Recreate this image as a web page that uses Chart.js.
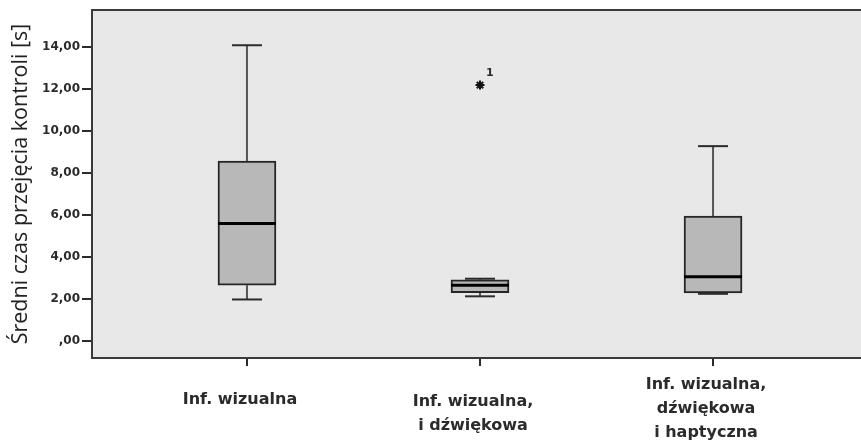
<!DOCTYPE html>
<html>
<head>
<meta charset="utf-8">
<script src="https://cdn.jsdelivr.net/npm/chart.js@4/dist/chart.umd.min.js"></script>
<style>
  html, body { margin: 0; padding: 0; background: #ffffff; overflow: hidden; }
  #wrap { width: 880px; height: 444px; }
</style>
</head>
<body>
<div id="wrap"><canvas id="c" width="880" height="444"></canvas></div>
<script>
// Groups (one label line per array entry)
const categories = [
  ['Inf. wizualna'],
  ['Inf. wizualna,', 'i dźwiękowa'],
  ['Inf. wizualna,', 'dźwiękowa', 'i haptyczna']
];

// Box statistics per group, seconds
const whiskerLow  = [1.98, 2.13, 2.25];
const quartile1   = [2.66, 2.31, 2.29];
const medians     = [5.60, 2.66, 3.06];
const quartile3   = [8.58, 2.92, 5.95];
const whiskerHigh = [14.10, 2.97, 9.29];

// Extreme values: group index, value, case label
const extremeGroup = [1];
const extremeValue = [12.20];
const extremeLabel = ['1'];

// Y axis tick values
const yTicks = [0, 2, 4, 6, 8, 10, 12, 14];

const FONT = "'DejaVu Sans', 'Open Sans', sans-serif";
const TITLE_FONT = "'Open Sans', 'DejaVu Sans', sans-serif";
const INK = '#2b2b2b';

// vertical offset of each group's first label line below the axis
const labelOffsets = [42, 44, 27];
const labelLineHeight = 24;

const boxPlugin = {
  id: 'boxParts',
  beforeDraw(chart) {
    const { ctx, chartArea: a } = chart;
    ctx.save();
    ctx.fillStyle = '#e8e8e8';
    ctx.fillRect(a.left, a.top, a.right - a.left, a.bottom - a.top);
    ctx.restore();
  },
  beforeDatasetsDraw(chart) {
    // whiskers and caps under the boxes
    const { ctx, scales: { x, y } } = chart;
    ctx.save();
    ctx.lineWidth = 2;
    categories.forEach((_, i) => {
      const cx = x.getPixelForValue(i);
      ctx.strokeStyle = '#555555';
      [[whiskerHigh[i], quartile3[i]], [whiskerLow[i], quartile1[i]]].forEach(([w, q]) => {
        ctx.beginPath();
        ctx.moveTo(cx, y.getPixelForValue(w));
        ctx.lineTo(cx, y.getPixelForValue(q));
        ctx.stroke();
      });
      ctx.strokeStyle = '#2b2b2b';
      [whiskerHigh[i], whiskerLow[i]].forEach(w => {
        const py = y.getPixelForValue(w);
        ctx.beginPath();
        ctx.moveTo(cx - 15, py);
        ctx.lineTo(cx + 15, py);
        ctx.stroke();
      });
    });
    ctx.restore();
  },
  afterDatasetsDraw(chart) {
    const { ctx, scales: { x, y } } = chart;
    ctx.save();
    // medians
    ctx.strokeStyle = '#000000';
    ctx.lineWidth = 3;
    const meta = chart.getDatasetMeta(0);
    categories.forEach((_, i) => {
      const bar = meta.data[i];
      const half = bar.width / 2;
      const cx = x.getPixelForValue(i);
      const py = y.getPixelForValue(medians[i]);
      ctx.beginPath();
      ctx.moveTo(cx - half, py);
      ctx.lineTo(cx + half, py);
      ctx.stroke();
    });
    // case labels next to extreme values
    ctx.fillStyle = INK;
    ctx.font = `bold 11px ${FONT}`;
    ctx.textAlign = 'left';
    ctx.textBaseline = 'middle';
    extremeGroup.forEach((g, k) => {
      ctx.fillText(extremeLabel[k], x.getPixelForValue(g) + 6, y.getPixelForValue(extremeValue[k]) - 12);
    });
    ctx.restore();
  },
  afterDraw(chart) {
    const { ctx, chartArea: a, scales: { x } } = chart;
    ctx.save();
    // frame top edge
    ctx.strokeStyle = '#3a3a3a';
    ctx.lineWidth = 2;
    ctx.beginPath();
    ctx.moveTo(a.left - 1, a.top);
    ctx.lineTo(a.right, a.top);
    ctx.stroke();
    // group labels
    ctx.fillStyle = INK;
    ctx.font = `bold 16px ${FONT}`;
    ctx.textAlign = 'center';
    ctx.textBaseline = 'middle';
    categories.forEach((lines, i) => {
      const cx = x.getPixelForValue(i) - 7;
      lines.forEach((t, j) => {
        ctx.fillText(t, cx, a.bottom + labelOffsets[i] + j * labelLineHeight);
      });
    });
    ctx.restore();
  }
};

new Chart(document.getElementById('c'), {
  type: 'bar',
  data: {
    datasets: [
      {
        type: 'bar',
        data: categories.map((_, i) => ({ x: i, y: [quartile1[i], quartile3[i]] })),
        backgroundColor: '#b8b8b8',
        borderColor: '#262626',
        borderWidth: 2,
        borderSkipped: false,
        barThickness: 58,
        order: 2
      },
      {
        type: 'line',
        data: extremeGroup.map((g, k) => ({ x: g, y: extremeValue[k] })),
        showLine: false,
        pointStyle: 'star',
        pointRadius: 4.5,
        pointBorderWidth: 2,
        borderColor: '#111111',
        backgroundColor: '#111111',
        order: 1
      }
    ]
  },
  options: {
    responsive: false,
    animation: false,
    devicePixelRatio: 1,
    layout: { padding: { top: 10, right: 12, left: 0, bottom: 0 } },
    plugins: { legend: { display: false }, tooltip: { enabled: false } },
    scales: {
      x: {
        type: 'linear',
        offset: false,
        min: -0.665,
        max: 2.665,
        afterBuildTicks: s => { s.ticks = categories.map((_, i) => ({ value: i })); },
        afterFit: s => { s.height = 86; },
        ticks: { callback: () => '', padding: 0 },
        grid: { offset: false, drawOnChartArea: false, color: '#2b2b2b', tickLength: 8, lineWidth: 2 },
        border: { color: '#3a3a3a', width: 2 }
      },
      y: {
        min: -0.81,
        max: 15.78,
        afterBuildTicks: s => { s.ticks = yTicks.map(v => ({ value: v })); },
        afterFit: s => { s.width = 92; },
        ticks: {
          padding: 2,
          color: INK,
          font: { family: FONT, size: 12, weight: 'bold' },
          callback: v => v === 0 ? ',00' : v.toFixed(2).replace('.', ',')
        },
        grid: { drawOnChartArea: false, color: '#2b2b2b', tickLength: 10, lineWidth: 2 },
        border: { color: '#3a3a3a', width: 2 },
        title: {
          display: true,
          text: 'Średni czas przejęcia kontroli [s]',
          color: '#222222',
          font: { family: TITLE_FONT, size: 21.5 },
          padding: { top: 8, bottom: 0 }
        }
      }
    }
  },
  plugins: [boxPlugin]
});
</script>
</body>
</html>
